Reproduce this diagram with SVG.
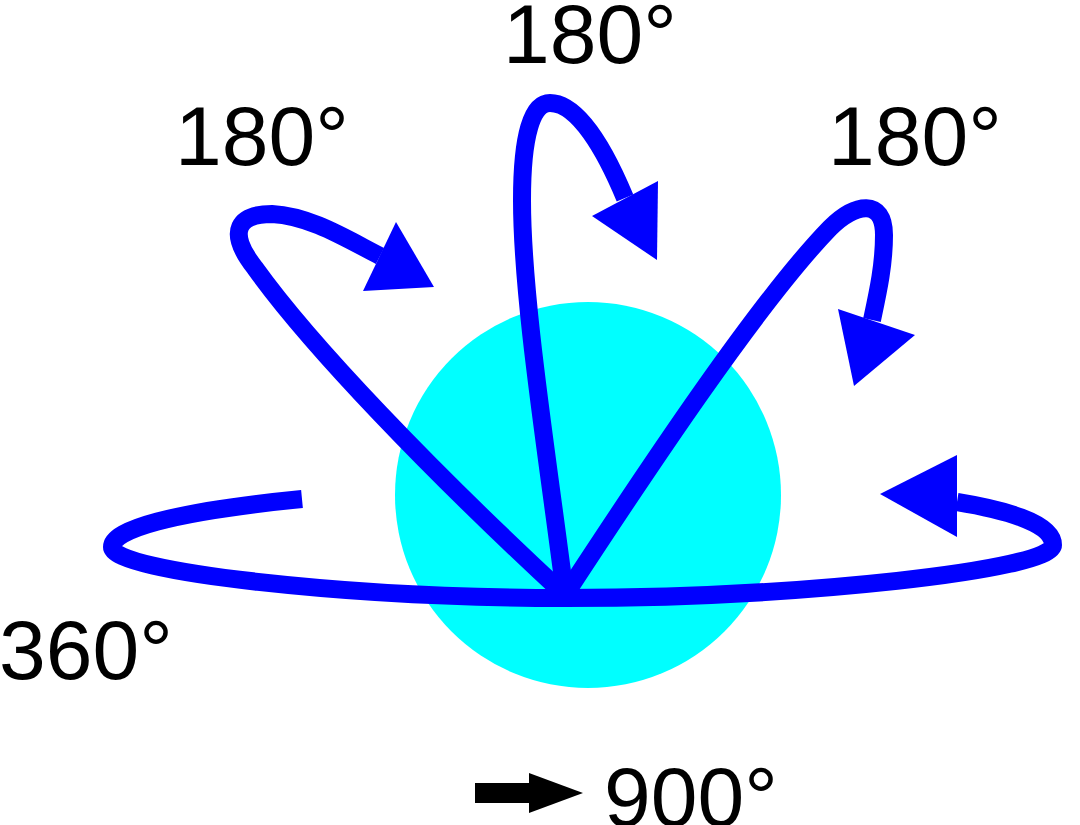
<svg xmlns="http://www.w3.org/2000/svg" width="1080" height="825" viewBox="0 0 1080 825">
<style>
.lbl{font-family:"Liberation Sans",Arial,sans-serif;font-size:84px;fill:#000}
.rot{fill:none;stroke:#0000FF;stroke-width:18}
.head{fill:#0000FF}
</style>
<rect width="1080" height="825" fill="#fff"/>
<g id="sphere"><circle cx="588" cy="495" r="193" fill="#00FFFF"/></g>
<g id="connectors">
<path class="rot" d="M565,595 C430,470 310,345 255,268 C225,230 240,214 272,214 C310,216 345,238 380,256"/>
<polygon class="head" points="434,287 396,222 363,291"/>
<path class="rot" d="M565,595 C548,460 522,300 522,200 C522,135 532,103 550,103 C578,103 605,150 625,198"/>
<polygon class="head" points="657,260 592,216 658,181"/>
<path class="rot" d="M565,595 C650,465 760,300 830,228 C855,203 884,198 884,235 C884,265 878,292 872,320"/>
<polygon class="head" points="854,386 838,309 915,335"/>
<path class="rot" d="M302,499 C170,512 112,530 112,547 C112,572 350,598 565,598 C800,598 1053,570 1053,545 C1053,522 1000,509 957,502"/>
<polygon class="head" points="880,494 957,455 957,537"/>
</g>
<g id="label-left"><text class="lbl" x="175" y="165">180°</text></g>
<g id="label-top"><text class="lbl" x="503" y="63">180°</text></g>
<g id="label-right"><text class="lbl" x="828" y="165">180°</text></g>
<g id="label-360"><text class="lbl" x="-1" y="679">360°</text></g>
<g id="total">
<rect x="475" y="783" width="56" height="20" fill="#000"/>
<polygon points="529,773 583,793 529,813" fill="#000"/>
<text class="lbl" x="604" y="826">900°</text>
</g>
</svg>
